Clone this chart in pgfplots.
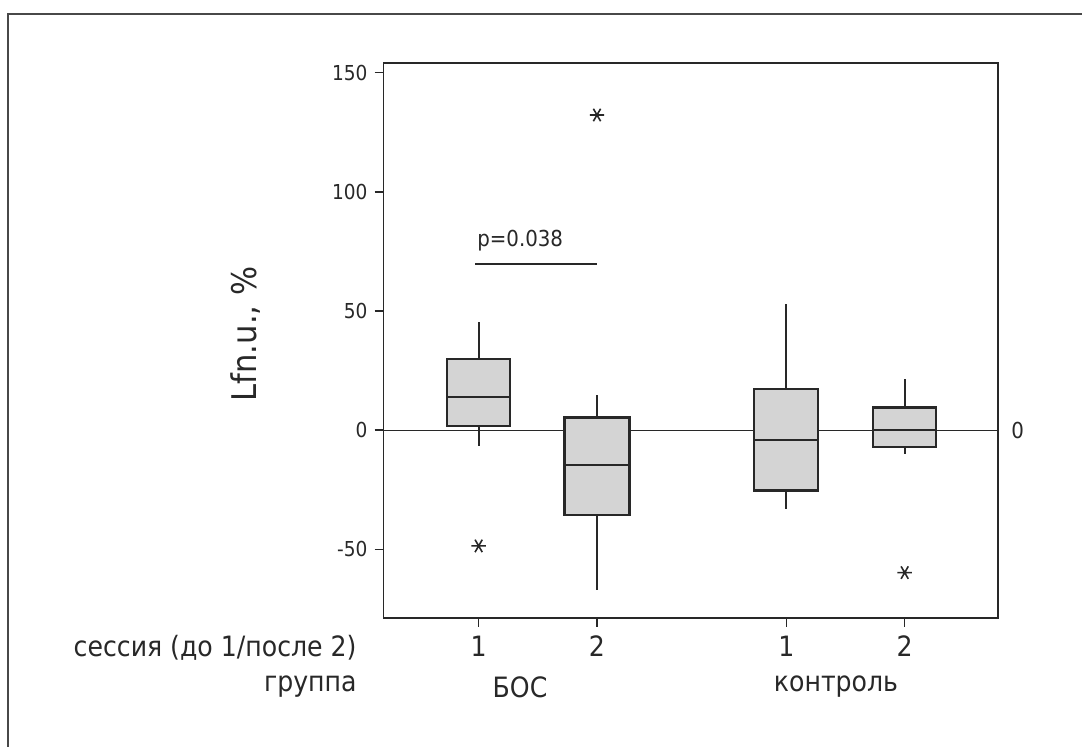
\documentclass[border=0pt]{standalone}
\usepackage{pgfplots}
\pgfplotsset{compat=1.18}
\usepgfplotslibrary{statistics}
\usepackage{fontspec}
\setmainfont{DejaVu Sans Condensed}
\definecolor{boxfill}{RGB}{212,212,212}
\definecolor{ink}{RGB}{40,40,40}
\begin{document}
\begin{tikzpicture}
\path[use as bounding box] (0,0) rectangle (541pt,373.5pt);
\draw[color=ink!85, line width=1pt] (4pt,0pt) -- (4pt,366.5pt) -- (541pt,366.5pt);
\begin{axis}[
 at={(191.75pt,64.65pt)}, anchor=south west,
 scale only axis, width=307.4pt, height=277.35pt,
 xmin=0.196, xmax=5.391, ymin=-78.6, ymax=154.0,
 xtick={1,2,3.6,4.6}, xticklabels={1,2,1,2},
 ytick={-50,0,50,100,150},
 xtick pos=bottom, ytick pos=left, tick align=outside,
 major tick length=4.5pt,
 axis line style={line width=0.9pt, draw=ink},
 every tick/.style={line width=0.8pt, draw=ink},
 /pgf/number format/assume math mode=true,
 yticklabel style={font=\fontsize{10.3}{12}\selectfont, text=ink},
 xticklabel style={font=\fontsize{14}{16}\selectfont, text=ink, yshift=-1pt},
 boxplot/draw direction=y,
 clip=false,
]
% zero reference line
\addplot[draw=ink, line width=0.6pt, mark=none] coordinates {(0.196,0) (5.391,0)};
% p-value bar
\addplot[draw=ink, line width=0.7pt, mark=none] coordinates {(0.97,69.7) (2.0,69.7)};
\node[anchor=west, inner sep=0pt, font=\fontsize{11}{13}\selectfont, text=ink] at (axis cs:0.985,79.5) {p=0.038};
\node[anchor=west, inner sep=0pt, font=\fontsize{11}{13}\selectfont, text=ink] at (axis cs:5.391,0) [xshift=6.3pt] {0};
% boxes
\addplot[boxplot prepared={draw position=1, lower whisker=-6.6, lower quartile=1.8, median=14.1, upper quartile=30.0, upper whisker=45.5, box extend=0.53, whisker extend=0},
  draw=ink, line width=1.1pt, fill=boxfill, mark=asterisk, mark size=3.6pt, mark options={rotate=90, line width=0.8pt, fill=none}] coordinates {(0,-48.5)};
\addplot[boxplot prepared={draw position=2, lower whisker=-67.0, lower quartile=-35.5, median=-14.5, upper quartile=5.3, upper whisker=14.8, box extend=0.55, whisker extend=0},
  draw=ink, line width=1.1pt, fill=boxfill, mark=asterisk, mark size=3.6pt, mark options={rotate=90, line width=0.8pt, fill=none}] coordinates {(0,132.2)};
\addplot[boxplot prepared={draw position=3.6, lower whisker=-32.9, lower quartile=-25.3, median=-4.2, upper quartile=17.3, upper whisker=52.8, box extend=0.54, whisker extend=0},
  draw=ink, line width=1.1pt, fill=boxfill] coordinates {};
\addplot[boxplot prepared={draw position=4.6, lower whisker=-9.9, lower quartile=-7.1, median=0, upper quartile=9.5, upper whisker=21.5, box extend=0.53, whisker extend=0},
  draw=ink, line width=1.1pt, fill=boxfill, mark=asterisk, mark size=3.6pt, mark options={rotate=90, line width=0.8pt, fill=none}] coordinates {(0,-59.7)};
\end{axis}
\node[rotate=90, font=\fontsize{17}{20}\selectfont, text=ink] at (123pt,206.5pt) {Lfn.u., \%};
\node[anchor=east, inner sep=0pt, font=\fontsize{14}{16}\selectfont, text=ink] at (178.5pt,49.5pt) {сессия (до 1/после 2)};
\node[anchor=east, inner sep=0pt, font=\fontsize{14}{16}\selectfont, text=ink] at (178.5pt,30pt) {группа};
\node[inner sep=0pt, font=\fontsize{14}{16}\selectfont, text=ink] at (260pt,30pt) {БОС};
\node[inner sep=0pt, font=\fontsize{14}{16}\selectfont, text=ink] at (418pt,30pt) {контроль};
\end{tikzpicture}
\end{document}
